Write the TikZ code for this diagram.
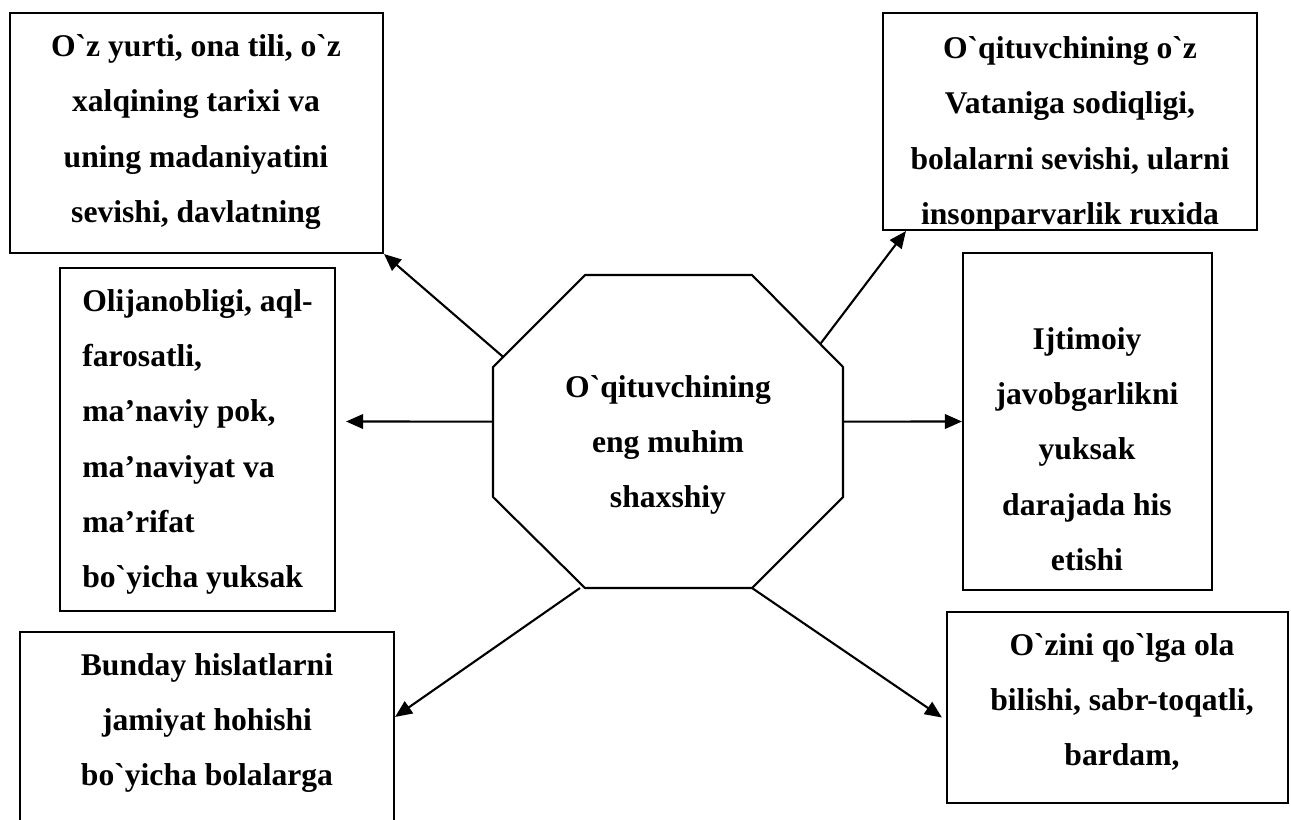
\documentclass[tikz,border=0pt]{standalone}
\usepackage{fontspec}
\setmainfont{Liberation Serif}[Ligatures=TeXOff]
\usetikzlibrary{arrows.meta,calc,fit}

\tikzset{
    box/.style={draw, line width=1.2pt, inner sep=0pt},
    txt/.style={font=\bfseries\fontsize{18}{31.5}\selectfont, align=center, inner sep=0pt},
    arr/.style={-{Triangle[length=3.4mm,width=2.9mm]}, line width=1.2pt},
}

\begin{document}
\begin{tikzpicture}[x=0.02cm, y=-0.02cm]

\clip (0,0) rectangle (1291,819);

% the six boxes round the centre
\foreach \name/\xa/\ya/\xb/\yb in {
    b1/10/13/383/253,
    b2/883/13/1257/230,
    b3/60/268/335/611,
    b4/20/632/394/860,
    b5/963/253/1212/590,
    b6/947/612/1288/803%
} {
    \node[box, fit={(\xa,\ya) (\xb,\yb)}] (\name) {};
}

% texts of the boxes
\node[txt] (t1) at (196,132) {O`z yurti, ona tili, o`z\\xalqining tarixi va\\uning madaniyatini\\sevishi, davlatning};
\begin{scope}
    \clip (b2.south west) rectangle (b2.north east);
    \node[txt] (t2) at (1070,134) {O`qituvchining o`z\\Vataniga sodiqligi,\\bolalarni sevishi, ularni\\insonparvarlik ruxida};
\end{scope}
\node[txt, align=left, anchor=west] (t3) at (82,442) {Olijanobligi, aql-\\farosatli,\\ma’naviy pok,\\ma’naviyat va\\ma’rifat\\bo`yicha yuksak};
\node[txt] (t4) at (207,723) {Bunday hislatlarni\\jamiyat hohishi\\bo`yicha bolalarga};
\node[txt] (t5) at (1087,449) {Ijtimoiy\\javobgarlikni\\yuksak\\darajada his\\etishi};
\node[txt] (t6) at (1122,702) {O`zini qo`lga ola\\bilishi, sabr-toqatli,\\bardam,};

% the octagon in the middle
\draw[line width=1.2pt] (585,275) coordinate (p1) -- (752,275) coordinate (p2)
    -- (843,367) coordinate (p3) -- (843,497) coordinate (p4)
    -- (752,588) coordinate (p5) -- (585,588) coordinate (p6)
    -- (493,497) coordinate (p7) -- (493,367) coordinate (p8) -- cycle;
\node[txt] (core) at (668,445) {O`qituvchining\\eng muhim\\shaxshiy};

% arrows out of the octagon
\draw[arr] ($(p8)!0.11!(p1)$) -- (b1.south east);
\draw[arr] ($(p2)!0.75!(p3)$) -- ($(b2.south west)+(24,0)$);
\draw[arr] ($(p8)!0.42!(p7)$) -- ($(b3.east)+(10,-18)$);
\draw[arr] ($(p3)!0.42!(p4)$) -- (b5.west);
\draw[arr] ($(p6)+(-5,0)$) -- ($(b4.north east)+(0,86)$);
\draw[arr] (p5) -- ($(b6.west)+(-4,10)$);

\end{tikzpicture}
\end{document}
